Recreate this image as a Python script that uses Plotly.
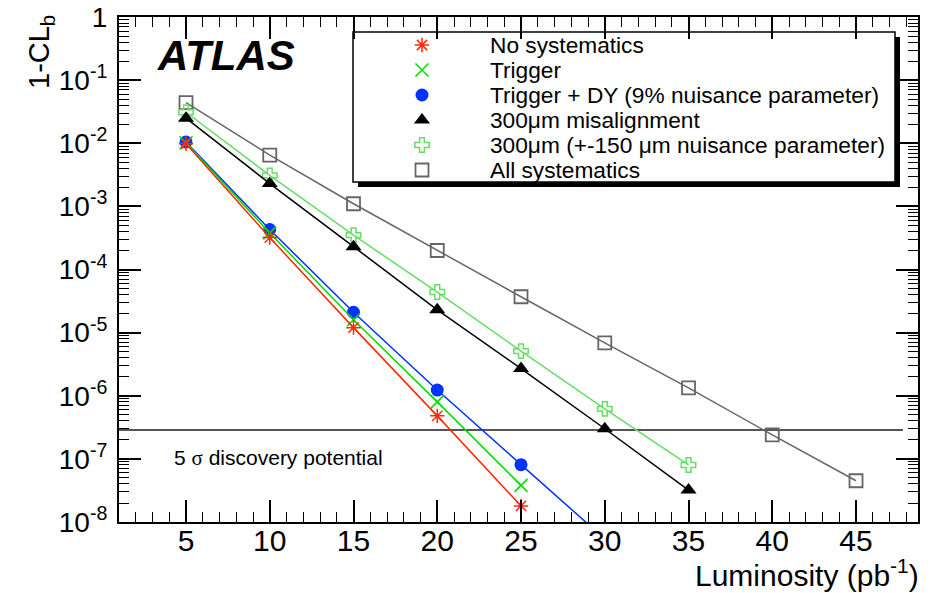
import plotly.graph_objects as go

# Luminosity points (pb^-1) and 1-CL_b for each systematics scenario
lumi_a = [5, 10, 15, 20, 25]
lumi_blue = [5, 10, 15, 20, 25, 30]
lumi_b = [5, 10, 15, 20, 25, 30, 35]
lumi_all = [5, 10, 15, 20, 25, 30, 35, 40, 45]

no_syst = [9.8e-3, 3.2e-4, 1.2e-5, 4.8e-7, 1.8e-8]
trigger = [1.02e-2, 3.8e-4, 1.6e-5, 8.0e-7, 3.8e-8]
trigger_dy = [1.05e-2, 4.3e-4, 2.1e-5, 1.23e-6, 8.1e-8, 5.4e-9]
misalign = [2.5e-2, 2.3e-3, 2.3e-4, 2.3e-5, 2.7e-6, 3.0e-7, 3.2e-8]
misalign_np = [3.1e-2, 3.1e-3, 3.5e-4, 4.4e-5, 5.1e-6, 6.2e-7, 8.0e-8]
all_syst = [4.4e-2, 6.5e-3, 1.1e-3, 2.0e-4, 3.7e-5, 6.9e-6, 1.33e-6, 2.4e-7, 4.5e-8]

names = [
    "No systematics",
    "Trigger",
    "Trigger + DY (9% nuisance parameter)",
    "300\u03bcm misalignment",
    "300\u03bcm (+-150 \u03bcm nuisance parameter)",
    "All systematics",
]

y_tickvals = [1, 1e-1, 1e-2, 1e-3, 1e-4, 1e-5, 1e-6, 1e-7, 1e-8]
y_ticktext = ["1"] + ["10<sup>-%d</sup>" % k for k in range(1, 9)]
x_tickvals = [5, 10, 15, 20, 25, 30, 35, 40, 45]

FIVE_SIGMA = 2.87e-7
five_sigma_x = [1, 47.8]

FONT = "Liberation Sans, Arial, Helvetica, sans-serif"
SERIF = "Liberation Serif, Times New Roman, serif"

# pixel geometry of the frame
W, H = 935, 593
L_PX, R_PX, T_PX, B_PX = 119, 918, 17, 522


def px_x(px):
    return (px - L_PX) / (R_PX - L_PX)


def px_y(py):
    return (B_PX - py) / (B_PX - T_PX)


styles = [
    dict(color="#ff2a00", symbol="asterisk-open", size=12, lw=1.5, mlw=1.5),
    dict(color="#00dd00", symbol="x-thin-open", size=13, lw=1.5, mlw=1.5),
    dict(color="#0033ff", symbol="circle", size=13, lw=1.5, mlw=0),
    dict(color="#000000", symbol="triangle-up", size=14, lw=1.5, mlw=0),
    dict(color="#66dd66", symbol="cross-open", size=12, lw=1.5, mlw=1.5),
    dict(color="#666666", symbol="square-open", size=13, lw=1.5, mlw=1.8),
]

series = [
    (lumi_a, no_syst),
    (lumi_a, trigger),
    (lumi_blue, trigger_dy),
    (lumi_b, misalign),
    (lumi_b, misalign_np),
    (lumi_all, all_syst),
]

fig = go.Figure()

# 5 sigma reference line
fig.add_trace(go.Scatter(
    x=five_sigma_x, y=[FIVE_SIGMA, FIVE_SIGMA], mode="lines",
    line=dict(color="#555555", width=2), showlegend=False, hoverinfo="skip",
))

# draw order: all systematics at the back, no systematics on top
for i in [5, 4, 3, 2, 1, 0]:
    xs, ys = series[i]
    st = styles[i]
    fig.add_trace(go.Scatter(
        x=xs, y=ys, mode="lines+markers", name=names[i],
        line=dict(color=st["color"], width=st["lw"]),
        marker=dict(symbol=st["symbol"], size=st["size"], color=st["color"],
                    line=dict(color=st["color"], width=st["mlw"])),
        showlegend=False,
    ))

# legend box with drop shadow
lg_x0, lg_x1, lg_y0, lg_y1 = 353, 895, 32, 182
fig.add_shape(type="rect", xref="paper", yref="paper", layer="below",
              x0=px_x(lg_x0 + 5), x1=px_x(lg_x1 + 5), y0=px_y(lg_y1 + 5), y1=px_y(lg_y0 + 5),
              fillcolor="black", line=dict(width=0))
fig.add_shape(type="rect", xref="paper", yref="paper", layer="below",
              x0=px_x(lg_x0), x1=px_x(lg_x1), y0=px_y(lg_y1), y1=px_y(lg_y0),
              fillcolor="white", line=dict(color="black", width=1.5))

row_y = [45, 70, 95, 120, 145, 170]
for i, name in enumerate(names):
    st = styles[i]
    fig.add_trace(go.Scatter(
        x=[px_x(422)], y=[px_y(row_y[i])], xaxis="x2", yaxis="y2", mode="markers",
        marker=dict(symbol=st["symbol"], size=st["size"], color=st["color"],
                    line=dict(color=st["color"], width=st["mlw"])),
        cliponaxis=False, showlegend=False, hoverinfo="skip",
    ))
    fig.add_annotation(xref="paper", yref="paper", x=px_x(488), y=px_y(row_y[i]),
                       text=name, showarrow=False, xanchor="left", yanchor="middle",
                       font=dict(family=FONT, size=22.7, color="black"))

# ATLAS label
fig.add_annotation(xref="paper", yref="paper", x=px_x(155), y=px_y(56),
                   text="ATLAS", showarrow=False, xanchor="left", yanchor="middle",
                   font=dict(family=FONT, size=42, color="black", weight="bold", style="italic"))

# 5 sigma label
fig.add_annotation(xref="paper", yref="paper", x=px_x(172), y=px_y(458),
                   text="5 <span style=\"font-family:%s\">\u03c3</span> discovery potential" % SERIF,
                   showarrow=False, xanchor="left", yanchor="middle",
                   font=dict(family=FONT, size=21, color="black"))

# axis titles
fig.add_annotation(xref="paper", yref="paper", x=px_x(921), y=px_y(573),
                   text="Luminosity (pb<sup>-1</sup>)", showarrow=False,
                   xanchor="right", yanchor="middle",
                   font=dict(family=FONT, size=30, color="black"))
fig.add_annotation(xref="paper", yref="paper", x=px_x(41), y=px_y(13),
                   text="1-CL<sub>b</sub>", showarrow=False, textangle=-90,
                   xanchor="center", yanchor="top",
                   font=dict(family=FONT, size=29, color="black"))

fig.update_layout(
    width=W, height=H,
    margin=dict(l=L_PX, r=W - R_PX, t=T_PX, b=H - B_PX, autoexpand=False),
    paper_bgcolor="white", plot_bgcolor="white",
    font=dict(family=FONT, color="black"),
    showlegend=False,
    xaxis=dict(
        range=[1, 48.7], showgrid=False, zeroline=False, automargin=False,
        showline=True, linecolor="black", linewidth=2, mirror="allticks",
        ticks="inside", ticklen=22, tickwidth=1.5, tickcolor="black",
        tickmode="array", tickvals=x_tickvals,
        tickfont=dict(family=FONT, size=30, color="black"),
        ticklabelstandoff=-9,
        minor=dict(ticks="inside", ticklen=10, tickwidth=1.2, tickcolor="black",
                   dtick=1, tick0=0, showgrid=False),
    ),
    yaxis=dict(
        type="log", range=[-8, 0], showgrid=False, zeroline=False, automargin=False,
        showline=True, linecolor="black", linewidth=2, mirror="allticks",
        ticks="inside", ticklen=22, tickwidth=1.5, tickcolor="black",
        tickmode="array", tickvals=y_tickvals, ticktext=y_ticktext,
        tickfont=dict(family=FONT, size=28, color="black"),
        ticklabelstandoff=4,
        minor=dict(ticks="inside", ticklen=10, tickwidth=1.2, tickcolor="black",
                   dtick="D1", showgrid=False),
    ),
    xaxis2=dict(overlaying="x", anchor="y2", range=[0, 1], visible=False),
    yaxis2=dict(overlaying="y", anchor="x2", range=[0, 1], visible=False),
)

fig.write_html("out.html")
